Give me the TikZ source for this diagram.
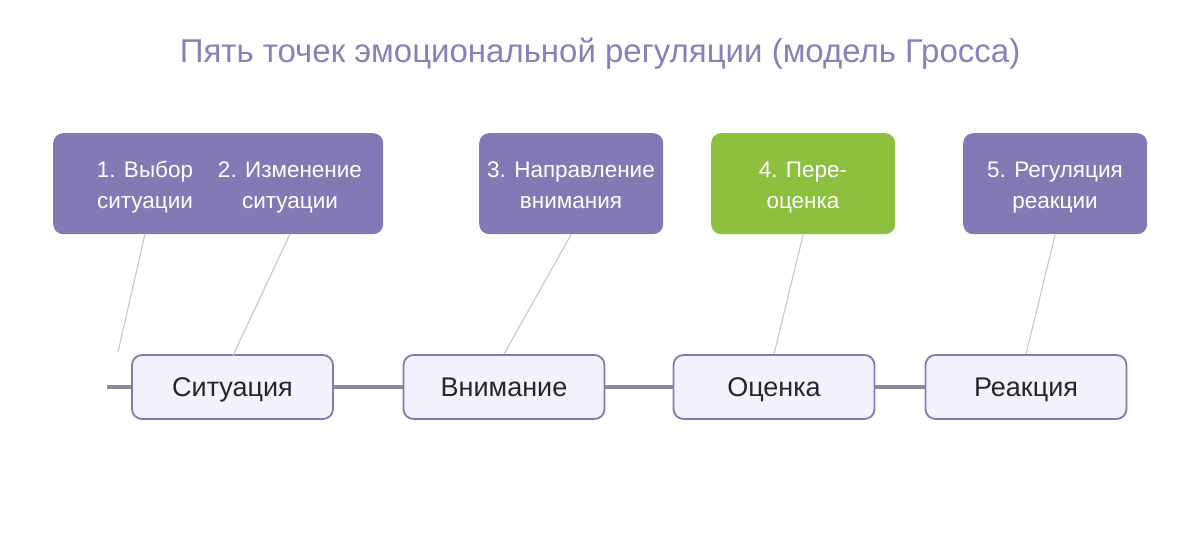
\documentclass[tikz,border=0pt]{standalone}
\usepackage{fontspec}
\setmainfont{Liberation Sans}
\definecolor{titlec}{HTML}{8A80B8}
\definecolor{boxp}{HTML}{8479B5}
\definecolor{boxg}{HTML}{8DC03F}
\definecolor{lowfill}{HTML}{F3F1FC}
\definecolor{lowdraw}{HTML}{8479B5}
\definecolor{axisc}{HTML}{8C8A9A}
\definecolor{thinc}{HTML}{CACACA}
\begin{document}
\begin{tikzpicture}[x=1pt,y=-1pt,
  topbox/.style={rounded corners=10pt, inner sep=0pt, anchor=north west},
  toptext/.style={text=white, align=center, font=\fontsize{22.5}{31}\selectfont, inner sep=0pt, anchor=base},
  lowbox/.style={draw=lowdraw, line width=1.8pt, fill=lowfill, rounded corners=10pt,
     minimum width=201pt, minimum height=64pt, inner sep=0pt, text height=25.1pt, text depth=5.7pt,
     font=\fontsize{27}{30}\selectfont, text=black!85},
  axis/.style={axisc, line width=4pt},
  thin/.style={thinc, line width=1.2pt}]
\useasboundingbox (0,0) rectangle (1200,542);
\node[text=titlec, font=\fontsize{33}{36}\selectfont] (title) at (600,54) {Пять точек эмоциональной регуляции (модель Гросса)};
% top boxes
\node[topbox, fill=boxp, minimum width=330pt, minimum height=101pt] (b12) at (53,133) {};
\node[topbox, fill=boxp, minimum width=184pt, minimum height=101pt] (b3) at (479,133) {};
\node[topbox, fill=boxg, minimum width=184pt, minimum height=101pt] (b4) at (711,133) {};
\node[topbox, fill=boxp, minimum width=184pt, minimum height=101pt] (b5) at (963,133) {};
\node[toptext] (t1) at (145,208) {1. Выбор\\ситуации};
\node[toptext] (t2) at (290,208) {2. Изменение\\ситуации};
\node[toptext] (t3) at (571,208) {3. Направление\\внимания};
\node[toptext] (t4) at (803,208) {4. Пере-\\оценка};
\node[toptext] (t5) at (1055,208) {5. Регуляция\\реакции};
% bottom boxes and axis
\coordinate (axstart) at (107,387);
\node[lowbox] (s) at (232.5,387) {Ситуация};
\node[lowbox] (v) at (504,387) {Внимание};
\node[lowbox] (o) at (774,387) {Оценка};
\node[lowbox] (r) at (1026,387) {Реакция};
\draw[axis] (axstart) -- (s.west);
\draw[axis] (s.east) -- (v.west);
\draw[axis] (v.east) -- (o.west);
\draw[axis] (o.east) -- (r.west);
% thin connectors
\coordinate (c1) at (118,352);
\coordinate (p1) at (145,234);
\coordinate (p2) at (290,234);
\coordinate (q2) at (233,355.5);
\draw[thin] (p1) -- (c1);
\draw[thin] (p2) -- (q2);
\draw[thin] (b3.south) -- (v.north);
\draw[thin] (b4.south) -- (o.north);
\draw[thin] (b5.south) -- (r.north);
\end{tikzpicture}
\end{document}
